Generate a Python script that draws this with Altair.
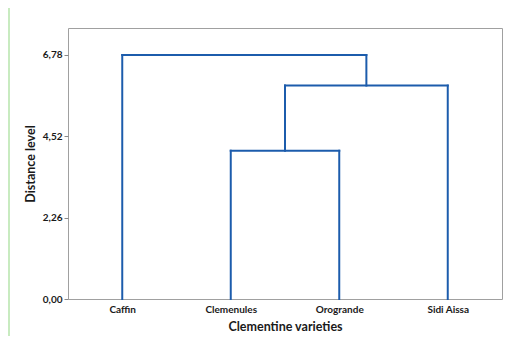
import altair as alt
import pandas as pd

# ---- data ----
varieties = ["Caffin", "Clemenules", "Orogrande", "Sidi Aissa"]
# agglomeration steps: (left member, right member, distance level)
merge_left = ["Clemenules", "C1", "Caffin"]
merge_right = ["Orogrande", "Sidi Aissa", "C2"]
merge_height = [4.12, 5.93, 6.78]
merge_name = ["C1", "C2", "C3"]
y_ticks = [0.0, 2.26, 4.52, 6.78]

# ---- build dendrogram segments from the linkage ----
pos = {v: i + 1 for i, v in enumerate(varieties)}
hgt = {v: 0.0 for v in varieties}
rows = []
for a, b, h, n in zip(merge_left, merge_right, merge_height, merge_name):
    xa, xb = pos[a], pos[b]
    rows.append({"x": xa, "x2": xa, "y": hgt[a], "y2": h})
    rows.append({"x": xb, "x2": xb, "y": hgt[b], "y2": h})
    rows.append({"x": xa, "x2": xb, "y": h, "y2": h})
    pos[n] = (xa + xb) / 2
    hgt[n] = h
seg = pd.DataFrame(rows)

label_expr = " : ".join(
    f"datum.value == {i + 1} ? '{v}'" for i, v in enumerate(varieties)
) + " : ''"

FONT = "Lato"
BLUE = "#1c5cac"

strip = alt.Chart(pd.DataFrame({"a": [0]})).mark_rect(color="#c8ebc0", clip=False).encode(
    x=alt.value(-62), x2=alt.value(-58), y=alt.value(-24), y2=alt.value(320)
)

lines = alt.Chart(seg).mark_rule(color=BLUE, strokeWidth=2, strokeCap="square").encode(
    x=alt.X(
        "x:Q",
        scale=alt.Scale(domain=[0.5, 4.5], nice=False, zero=False),
        axis=alt.Axis(
            title="Clementine varieties",
            values=[1, 2, 3, 4],
            labelExpr=label_expr,
            grid=False,
            ticks=False,
            domain=False,
            labelFont=FONT,
            labelFontSize=10,
            labelFontWeight="bold",
            labelColor="#1a1a1a",
            labelPadding=5,
            titleFont=FONT,
            titleFontSize=12.5,
            titleFontWeight="bold",
            titleColor="#1a1a1a",
            titlePadding=6,
        ),
    ),
    x2="x2:Q",
    y=alt.Y(
        "y:Q",
        scale=alt.Scale(domain=[0, 7.53], nice=False),
        axis=alt.Axis(
            title="Distance level",
            values=y_ticks,
            labelExpr="replace(format(datum.value, '.2f'), '.', ',')",
            grid=False,
            domain=False,
            tickColor="#888888",
            tickSize=4,
            labelFont=FONT,
            labelFontSize=10,
            labelFontWeight="bold",
            labelColor="#1a1a1a",
            labelPadding=2,
            titleFont=FONT,
            titleFontSize=12.5,
            titleFontWeight="bold",
            titleColor="#1a1a1a",
            titlePadding=5,
        ),
    ),
    y2="y2:Q",
)

chart = alt.layer(strip, lines).properties(
    width=434,
    height=271,
    background="white",
    padding={"left": 60, "top": 20, "right": 2, "bottom": 37},
    autosize=alt.AutoSizeParams(type="none"),
).configure_view(stroke="#a0a0a0", strokeWidth=1)

chart.save("out.html", embed_options={"renderer": "svg", "actions": False})
